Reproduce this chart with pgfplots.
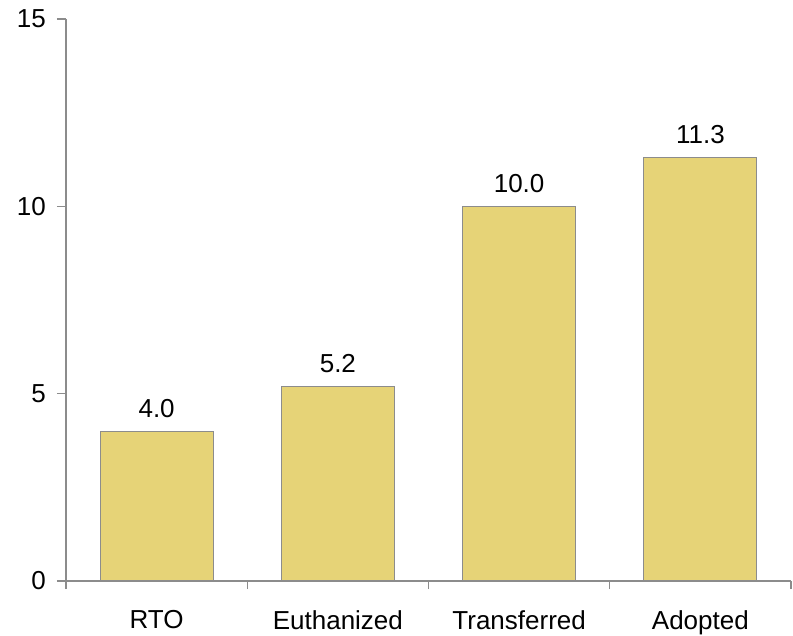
\documentclass[border=0pt]{standalone}
\usepackage{pgfplots}
\pgfplotsset{compat=1.18}
\usepackage{fontspec}
\setmainfont{Liberation Sans}
\definecolor{barfill}{HTML}{E6D377}
\definecolor{barline}{HTML}{8C8C8C}
\definecolor{axline}{HTML}{8C8C8C}
\begin{document}
\begin{tikzpicture}
\begin{axis}[
  scale only axis,
  width=725pt, height=562pt,
  xmin=-0.5, xmax=3.5,
  ymin=0, ymax=15,
  axis lines*=left,
  axis line style={draw=axline, line width=1.1pt},
  xtick={0,1,2,3},
  xticklabels={RTO,Euthanized,Transferred,Adopted},
  major x tick style={draw=none},
  minor xtick={-0.5,0.5,1.5,2.5,3.5},
  minor x tick style={draw=axline, line width=1.1pt},
  minor tick length=8pt,
  ytick={0,5,10,15},
  y tick style={draw=axline, line width=1.1pt},
  major tick length=9pt,
  tick align=outside,
  font=\fontsize{26}{30}\selectfont,
  /pgf/number format/assume math mode=true,
  yticklabel style={font=\fontsize{26}{30}\selectfont, inner sep=0pt, xshift=-11pt},
  xticklabel style={font=\fontsize{26}{30}\selectfont, inner sep=0pt, yshift=-20pt},
  ybar, bar width=113pt,
  nodes near coords,
  nodes near coords style={font=\fontsize{26}{30}\selectfont, anchor=south, inner sep=0pt, yshift=13pt, /pgf/number format/.cd, fixed, fixed zerofill, precision=1},
  point meta=explicit,
  clip=false,
]
\addplot[fill=barfill, draw=barline, line width=1.1pt] coordinates {
  (0,4.0) [4.0]
  (1,5.2) [5.2]
  (2,10.0) [10.0]
  (3,11.3) [11.3]
};
\coordinate (bl) at (rel axis cs:0,0);
\coordinate (tr) at (rel axis cs:1,1);
\end{axis}
\pgfresetboundingbox
\path ([shift={(-66pt,-54pt)}]bl) rectangle ([shift={(2pt,19pt)}]tr);
\end{tikzpicture}
\end{document}
